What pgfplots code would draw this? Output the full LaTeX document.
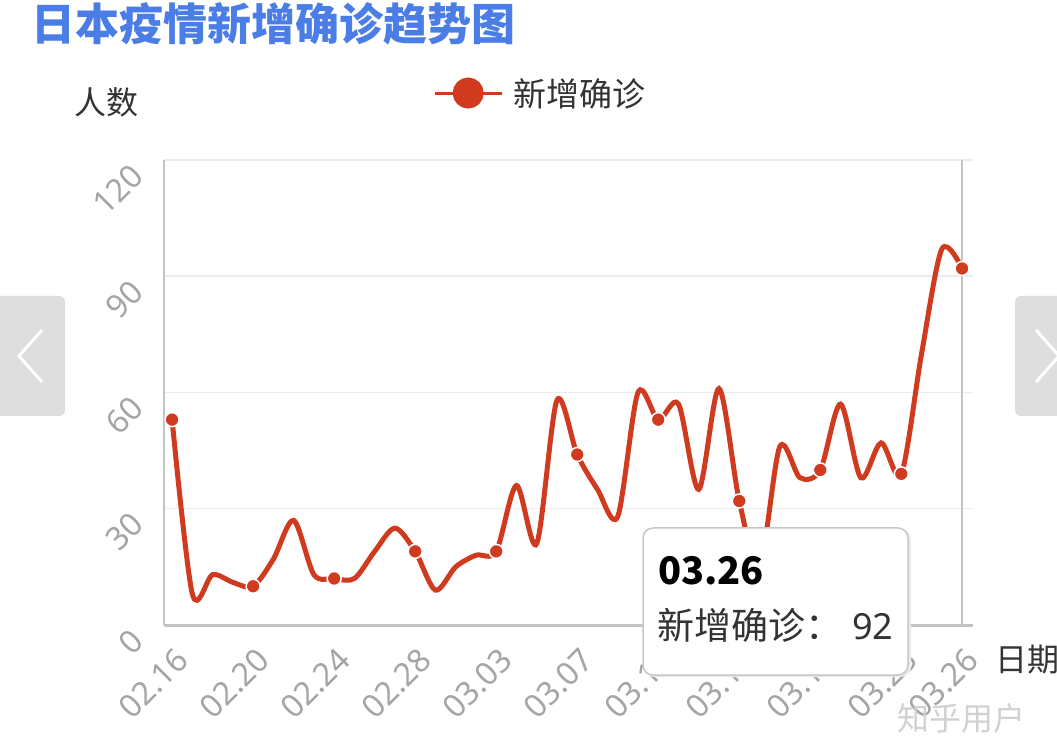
\documentclass[border=0pt]{standalone}
\usepackage{fontspec}
\setmainfont{Noto Sans}
\newfontfamily\cjk{Noto Sans CJK SC}
\usepackage{pgfplots}
\pgfplotsset{compat=1.18}
\definecolor{linered}{RGB}{208,58,30}
\definecolor{titleblue}{RGB}{74,126,230}
\definecolor{tickgray}{RGB}{165,165,165}
\definecolor{gridgray}{RGB}{236,236,236}
\definecolor{axisgray}{RGB}{195,195,195}
\definecolor{textdark}{RGB}{51,51,51}
\definecolor{navgray}{RGB}{222,222,222}

\pgfplotstableread{
i v
0 53
1 8
2 13
3 11
4 10
5 17
6 27
7 13
8 12
9 12
10 19
11 25
12 19
13 9
14 15
15 18
16 19
17 36
18 21
19 58
20 44
21 35
22 28
23 60
24 53
25 57
26 35
27 61
28 32
29 15
30 46
31 38
32 40
33 57
34 38
35 47
36 39
37 70
38 97
39 92
}\cases

\begin{document}
\begin{tikzpicture}[x=1pt,y=1pt]
\path[use as bounding box, fill=white] (0,0) rectangle (1057,755);
% navigation buttons of the screenshot
\fill[navgray, rounded corners=6pt] (-10,339) rectangle (65,459);
\draw[white, line width=3pt] (42,425) -- (19,399) -- (42,373);
\fill[navgray, rounded corners=6pt] (1015,339) rectangle (1080,459);
\draw[white, line width=3pt] (1036,425) -- (1059,399) -- (1036,373);
% title
\node[anchor=base west, inner sep=0pt, text=titleblue, font=\cjk\bfseries\fontsize{44}{44}\selectfont] at (31,714) {日本疫情新增确诊趋势图};
\node[anchor=base west, inner sep=0pt, text=textdark, font=\cjk\fontsize{32}{32}\selectfont] at (74,640) {人数};
\begin{axis}[
  at={(164pt,130pt)}, anchor=south west, scale only axis,
  width=809pt, height=465pt,
  xmin=-0.4, xmax=39.54, ymin=0, ymax=120,
  axis x line*=bottom, axis y line*=left,
  x axis line style={axisgray, line width=3pt},
  y axis line style={axisgray, line width=2pt},
  ytick={0,30,60,90,120},
  xtick={0,4,8,12,16,20,24,28,32,36,39},
  xticklabels={02.16,02.20,02.24,02.28,03.03,03.07,03.11,03.15,03.19,03.23,03.26},
  major tick length=0pt,
  ymajorgrids, grid style={gridgray, line width=1.5pt},
  /pgf/number format/assume math mode=true,
  tick label style={font=\fontsize{32}{32}\selectfont, text=tickgray},
  x tick label style={rotate=45, anchor=north east, inner sep=0pt, xshift=-13pt, yshift=-16pt},
  y tick label style={rotate=45, anchor=east, inner sep=0pt, xshift=-26pt, yshift=12pt},
  legend style={at={(0.3325,1.144)}, anchor=west, draw=none, fill=none,
    font=\cjk\fontsize{33}{33}\selectfont, text=textdark, inner sep=0pt,
    /tikz/every odd column/.append style={column sep=8pt}},
  legend cell align=left,
  legend image code/.code={\draw[linered, line width=3pt] (0pt,0pt) -- (67pt,0pt); \fill[linered] (33.5pt,0pt) circle (13pt);},
  clip=false,
]
\addplot[axisgray, line width=2pt, forget plot] coordinates {(39,0) (39,120)};
\addplot[linered, line width=5pt, smooth, tension=0.5, mark=*,
  mark indices={1,5,9,13,17,21,25,29,33,37,40},
  mark size=7pt, mark options={fill=linered, draw=white, line width=1.5pt}]
  table[x=i, y=v] {\cases};
\addlegendentry{新增确诊}
\end{axis}
% x axis name
\node[anchor=base west, inner sep=0pt, text=textdark, font=\cjk\fontsize{32}{32}\selectfont] at (995,84) {日期};
% tooltip
\fill[black!8, rounded corners=10pt] (644,78) rectangle (911,226);
\draw[fill=white, draw=black!22, line width=1.5pt, rounded corners=10pt] (643,80) rectangle (908,227);
\node[anchor=base west, inner sep=0pt, text=black, font=\cjk\bfseries\fontsize{38}{38}\selectfont] at (658,170) {03.26};
\node[anchor=base west, inner sep=0pt, text=textdark, font=\cjk\fontsize{37}{37}\selectfont] at (657,115) {新增确诊：};
\node[anchor=base west, inner sep=0pt, text=textdark, font=\fontsize{36}{36}\selectfont] at (852,115) {92};
% watermark
\node[anchor=base west, inner sep=0pt, text=black!18, font=\cjk\fontsize{32}{32}\selectfont] at (897,25) {知乎用户};
\end{tikzpicture}
\end{document}
